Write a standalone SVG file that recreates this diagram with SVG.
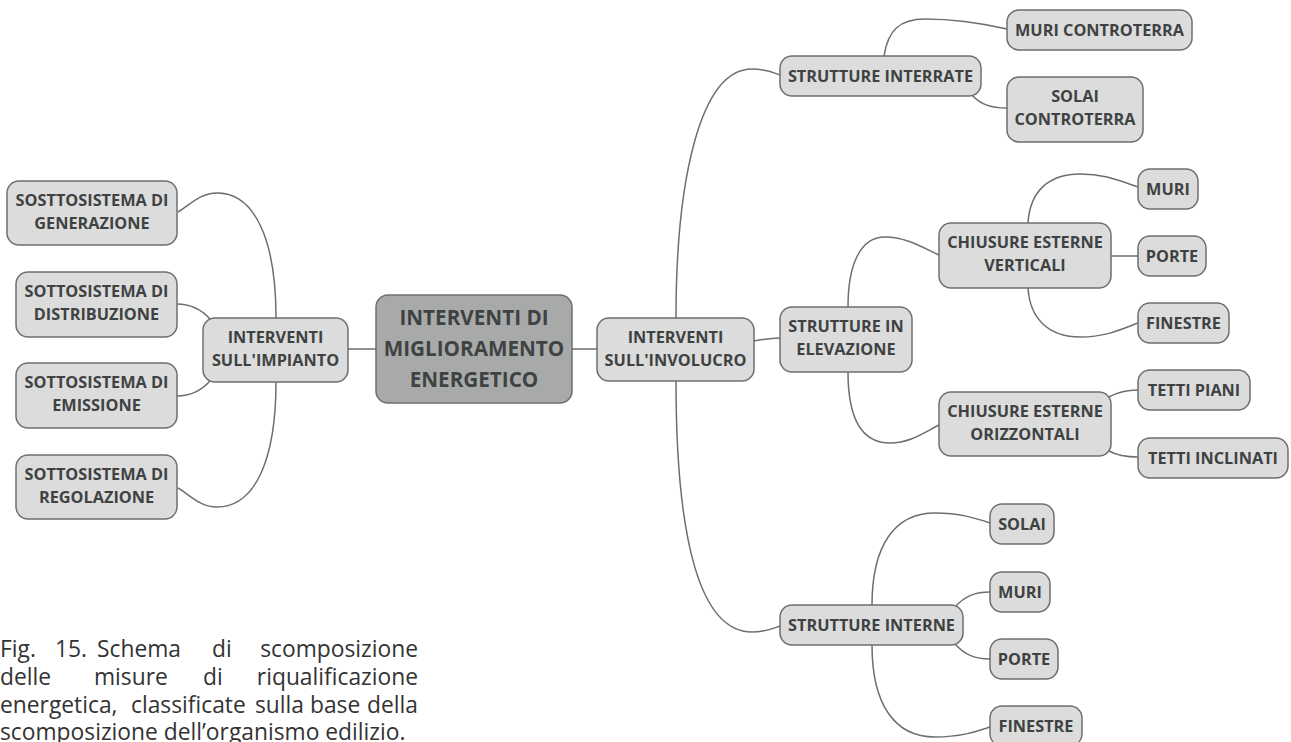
<svg xmlns="http://www.w3.org/2000/svg" width="1291" height="742" viewBox="0 0 1291 742">
<style>
  .n rect { fill: #dbdcdb; stroke: #6d6f6f; stroke-width: 1.5; }
  .n.c rect { fill: #a8aaa9; }
  .n text { font-family: "Open Sans", "Noto Sans", "DejaVu Sans", sans-serif; font-weight: 700; font-size: 16.3px; fill: #3f4242; text-anchor: middle; }
  .n.c text { font-size: 20.7px; }
  .e path { fill: none; stroke: #6d6f6f; stroke-width: 1.5; }
  .cap text { font-family: "Open Sans", "Noto Sans", "DejaVu Sans", sans-serif; font-size: 22.8px; fill: #333333; }
  .cap .r { text-anchor: end; }
</style>
<rect width="1291" height="742" fill="#ffffff"/>
<g class="e" id="connectors">
  <path d="M348,349 L376,349"/>
  <path d="M572,349 L597,349"/>
  <path d="M276,318 C276,240 255,193 217,193 C200,193 190,205 178,212"/>
  <path d="M210,319 C200,308 190,304 177,304"/>
  <path d="M210,381 C200,392 190,396 177,396"/>
  <path d="M276,382 C276,460 255,507 217,507 C200,507 190,495 178,488"/>
  <path d="M676,318 C676,180 700,69 752,69 C765,69 772,72 780,75"/>
  <path d="M754,341 C765,339 772,338 780,338"/>
  <path d="M676,381 C676,540 700,632 752,632 C765,632 772,629 780,626"/>
  <path d="M884,56 C888,30 900,19 925,19 C960,19 985,24 1007,29"/>
  <path d="M972,95 C980,104 990,108 1007,108"/>
  <path d="M848,307 C848,265 860,237 885,237 C905,237 920,246 939,255"/>
  <path d="M848,372 C848,415 860,443 890,443 C910,443 925,432 939,425"/>
  <path d="M1028,223 C1030,190 1050,174 1080,174 C1105,174 1120,181 1138,187"/>
  <path d="M1111,256 L1138,256"/>
  <path d="M1028,288 C1030,320 1050,337 1080,337 C1105,337 1120,330 1138,323"/>
  <path d="M1109,397 C1118,392 1126,390 1138,390"/>
  <path d="M1109,451 C1118,456 1126,457 1138,457"/>
  <path d="M872,605 C872,545 895,513 935,513 C960,513 975,518 990,523"/>
  <path d="M955,607 C965,596 975,592 990,592"/>
  <path d="M955,644 C965,655 975,659 990,659"/>
  <path d="M872,645 C872,705 895,737 935,737 C960,737 975,732 990,727"/>
</g>
<g class="n c" id="central"><rect x="376" y="295" width="196" height="108" rx="12"/><text x="474" y="325">INTERVENTI DI</text><text x="474" y="356">MIGLIORAMENTO</text><text x="474" y="387">ENERGETICO</text></g>
<g class="n" id="impianto"><rect x="203" y="318" width="145" height="64" rx="12"/><text x="275.5" y="343">INTERVENTI</text><text x="275.5" y="366">SULL'IMPIANTO</text></g>
<g class="n" id="involucro"><rect x="597" y="318" width="157" height="63" rx="12"/><text x="675.5" y="343">INTERVENTI</text><text x="675.5" y="366">SULL'INVOLUCRO</text></g>
<g class="n" id="generazione"><rect x="7" y="181" width="170" height="64" rx="12"/><text x="92" y="206">SOSTTOSISTEMA DI</text><text x="92" y="229">GENERAZIONE</text></g>
<g class="n" id="distribuzione"><rect x="16" y="272" width="161" height="65" rx="12"/><text x="96.5" y="297">SOTTOSISTEMA DI</text><text x="96.5" y="320">DISTRIBUZIONE</text></g>
<g class="n" id="emissione"><rect x="16" y="363" width="161" height="65" rx="12"/><text x="96.5" y="388">SOTTOSISTEMA DI</text><text x="96.5" y="411">EMISSIONE</text></g>
<g class="n" id="regolazione"><rect x="16" y="455" width="161" height="64" rx="12"/><text x="96.5" y="480">SOTTOSISTEMA DI</text><text x="96.5" y="503">REGOLAZIONE</text></g>
<g class="n" id="interrate"><rect x="780" y="56" width="201" height="40" rx="12"/><text x="880.5" y="81.5">STRUTTURE INTERRATE</text></g>
<g class="n" id="muri-controterra"><rect x="1007" y="10" width="185" height="40" rx="12"/><text x="1099.5" y="35.5">MURI CONTROTERRA</text></g>
<g class="n" id="solai-controterra"><rect x="1007" y="77" width="136" height="65" rx="12"/><text x="1075" y="102">SOLAI</text><text x="1075" y="125">CONTROTERRA</text></g>
<g class="n" id="elevazione"><rect x="780" y="307" width="132" height="65" rx="12"/><text x="846" y="332">STRUTTURE IN</text><text x="846" y="355">ELEVAZIONE</text></g>
<g class="n" id="verticali"><rect x="939" y="223" width="172" height="65" rx="12"/><text x="1025" y="248">CHIUSURE ESTERNE</text><text x="1025" y="271">VERTICALI</text></g>
<g class="n" id="muri"><rect x="1138" y="169" width="60" height="40" rx="12"/><text x="1168" y="194.5">MURI</text></g>
<g class="n" id="porte"><rect x="1138" y="236" width="68" height="40" rx="12"/><text x="1172" y="261.5">PORTE</text></g>
<g class="n" id="finestre"><rect x="1138" y="303" width="91" height="40" rx="12"/><text x="1183.5" y="328.5">FINESTRE</text></g>
<g class="n" id="orizzontali"><rect x="939" y="392" width="172" height="64" rx="12"/><text x="1025" y="417">CHIUSURE ESTERNE</text><text x="1025" y="440">ORIZZONTALI</text></g>
<g class="n" id="tetti-piani"><rect x="1138" y="370" width="112" height="40" rx="12"/><text x="1194" y="395.5">TETTI PIANI</text></g>
<g class="n" id="tetti-inclinati"><rect x="1138" y="438" width="150" height="40" rx="12"/><text x="1213" y="463.5">TETTI INCLINATI</text></g>
<g class="n" id="interne"><rect x="780" y="605" width="183" height="40" rx="12"/><text x="871.5" y="630.5">STRUTTURE INTERNE</text></g>
<g class="n" id="solai"><rect x="990" y="504" width="64" height="40" rx="12"/><text x="1022" y="529.5">SOLAI</text></g>
<g class="n" id="muri-int"><rect x="990" y="572" width="60" height="40" rx="12"/><text x="1020" y="597.5">MURI</text></g>
<g class="n" id="porte-int"><rect x="990" y="639" width="68" height="40" rx="12"/><text x="1024" y="664.5">PORTE</text></g>
<g class="n" id="finestre-int"><rect x="990" y="706" width="92" height="40" rx="12"/><text x="1036" y="731.5">FINESTRE</text></g>
<g id="caption" class="cap">
  <text x="0" y="657">Fig.</text><text x="55" y="657">15.</text><text x="97" y="657">Schema</text><text x="212" y="657">di</text><text class="r" x="418" y="657">scomposizione</text>
  <text x="0" y="685">delle</text><text x="94" y="685">misure</text><text x="203" y="685">di</text><text class="r" x="418" y="685">riqualificazione</text>
  <text x="0" y="713">energetica,</text><text x="131" y="713">classificate</text><text x="255" y="713">sulla</text><text x="310" y="713">base</text><text class="r" x="418" y="713">della</text>
  <text x="0" y="740">scomposizione dell’organismo edilizio.</text>
</g>
</svg>
